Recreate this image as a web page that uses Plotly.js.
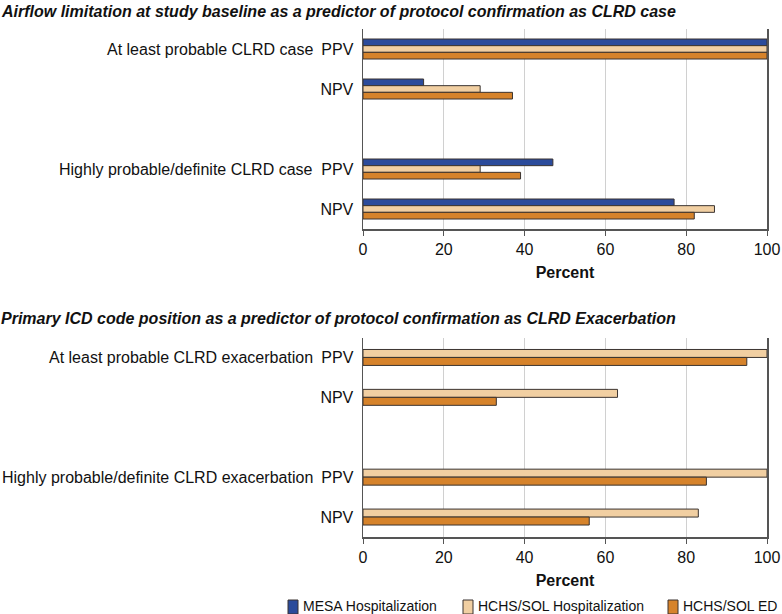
<!DOCTYPE html>
<html>
<head>
<meta charset="utf-8">
<script src="https://cdn.plot.ly/plotly-3.0.1.min.js"></script>
<style>
  html, body { margin: 0; padding: 0; background: #fff; }
  #chart { width: 782px; height: 614px; }
</style>
</head>
<body>
<div id="chart"></div>
<script>
// --- data ---
const measures = ['PPV', 'NPV'];
const groupsCase = ['At least probable CLRD case', 'Highly probable/definite CLRD case'];
const groupsExac = ['At least probable CLRD exacerbation', 'Highly probable/definite CLRD exacerbation'];
const seriesNames = ['MESA Hospitalization', 'HCHS/SOL Hospitalization', 'HCHS/SOL ED'];
const seriesColors = ['#2B4B9B', '#F1CFA2', '#D6832B'];

// top panel: order = [group1 PPV, group1 NPV, group2 PPV, group2 NPV]
const caseMesa = [100, 15, 47, 77];
const caseHchsHosp = [100, 29, 29, 87];
const caseHchsEd = [100, 37, 39, 82];

// bottom panel (no MESA data)
const exacHchsHosp = [100, 63, 100, 83];
const exacHchsEd = [95, 33, 85, 56];

// slot on the y axis: one blank slot between the two groups
function slots() {
    const out = [];
    for (let g = 0; g < 2; g++) {
        for (let m = 0; m < measures.length; m++) out.push(g * 3 + m);
    }
    return out;
}
const ySlots = slots();
const tickLabels = ySlots.map((s, i) => measures[i % measures.length]);

const font = 'Liberation Sans, Arial, Helvetica, sans-serif';
const edge = '#3a3330';

function barTrace(values, k, nBars, axis) {
    const w = nBars === 3 ? 1 / 6 : 0.2;
    const s = k + (3 - nBars);
    return {
        type: 'bar',
        orientation: 'h',
        x: values,
        y: ySlots,
        yaxis: axis,
        xaxis: axis === 'y' ? 'x' : 'x2',
        name: seriesNames[s],
        width: w,
        offset: -w * nBars / 2 + k * w,
        marker: { color: seriesColors[s], line: { color: edge, width: 1 } },
        showlegend: false,
        hoverinfo: 'x+name'
    };
}

const data = [
    barTrace(caseMesa, 0, 3, 'y'),
    barTrace(caseHchsHosp, 1, 3, 'y'),
    barTrace(caseHchsEd, 2, 3, 'y'),
    barTrace(exacHchsHosp, 0, 2, 'y2'),
    barTrace(exacHchsEd, 1, 2, 'y2')
];

const xAxisBase = {
    range: [0, 100],
    tickvals: [0, 20, 40, 60, 80, 100],
    showgrid: true,
    gridcolor: '#d0d0d0',
    gridwidth: 1,
    zeroline: false,
    showline: true,
    linecolor: '#555',
    linewidth: 1.5,
    ticks: 'outside',
    ticklen: 5,
    tickcolor: '#555',
    tickfont: { family: font, size: 16, color: '#111' },
    title: { text: '<b>Percent</b>', font: { family: font, size: 16, color: '#111' }, standoff: 10 },
    automargin: false,
    fixedrange: true
};

const yAxisBase = {
    range: [4.5, -0.5],
    tickvals: ySlots,
    ticktext: tickLabels,
    showgrid: false,
    zeroline: false,
    showline: true,
    mirror: true,
    linecolor: '#555',
    linewidth: 1.5,
    ticks: 'outside',
    ticklen: 5,
    tickcolor: 'rgba(0,0,0,0)',
    tickfont: { family: font, size: 16, color: '#111' },
    automargin: false,
    fixedrange: true
};

const H = 614 - 29 - 77;
const plotW = 782 - 363 - 15;
const px = (p) => (p - 363) / plotW;
const py = (p) => (537 - p) / H;

const annotations = [];
const shapes = [];
function addTitle(text, yPix) {
    annotations.push({
        xref: 'paper', yref: 'paper', x: px(-1), y: py(yPix),
        xanchor: 'left', yanchor: 'middle', showarrow: false,
        text: '<b><i>' + text + '</i></b>',
        font: { family: font, size: 16, color: '#111' }
    });
}
addTitle('Airflow limitation at study baseline as a predictor of protocol confirmation as CLRD case', 11);
addTitle('Primary ICD code position as a predictor of protocol confirmation as CLRD Exacerbation', 318);

function addGroupLabels(groups, axis) {
    groups.forEach((g, i) => {
        annotations.push({
            xref: 'paper', yref: axis, x: px(315), y: ySlots[i * measures.length],
            xanchor: 'right', yanchor: 'middle', showarrow: false,
            text: g,
            font: { family: font, size: 16, color: '#111' }
        });
    });
}
addGroupLabels(groupsCase, 'y');
addGroupLabels(groupsExac, 'y2');

// legend drawn by hand to match the compact swatch/text spacing
const legendSwatchX = [288, 463, 668];
seriesNames.forEach((name, i) => {
    const x0 = legendSwatchX[i];
    shapes.push({
        type: 'rect', xref: 'paper', yref: 'paper',
        x0: px(x0), x1: px(x0 + 10), y0: py(614), y1: py(600),
        fillcolor: seriesColors[i], line: { color: edge, width: 1 }
    });
    annotations.push({
        xref: 'paper', yref: 'paper', x: px(x0 + 13), y: py(606),
        xanchor: 'left', yanchor: 'middle', showarrow: false,
        text: name,
        font: { family: font, size: 14, color: '#111' }
    });
});

const layout = {
    width: 782,
    height: 614,
    margin: { l: 363, r: 15, t: 29, b: 77, autoexpand: false },
    paper_bgcolor: '#ffffff',
    plot_bgcolor: '#ffffff',
    barmode: 'overlay',
    xaxis: Object.assign({}, xAxisBase, { anchor: 'y' }),
    xaxis2: Object.assign({}, xAxisBase, { anchor: 'y2' }),
    yaxis: Object.assign({}, yAxisBase, { domain: [py(229), 1], anchor: 'x' }),
    yaxis2: Object.assign({}, yAxisBase, { domain: [0, py(337.5)], anchor: 'x2' }),
    annotations: annotations,
    shapes: shapes,
    showlegend: false
};

Plotly.newPlot('chart', data, layout, { displayModeBar: false, staticPlot: true });
</script>
</body>
</html>
